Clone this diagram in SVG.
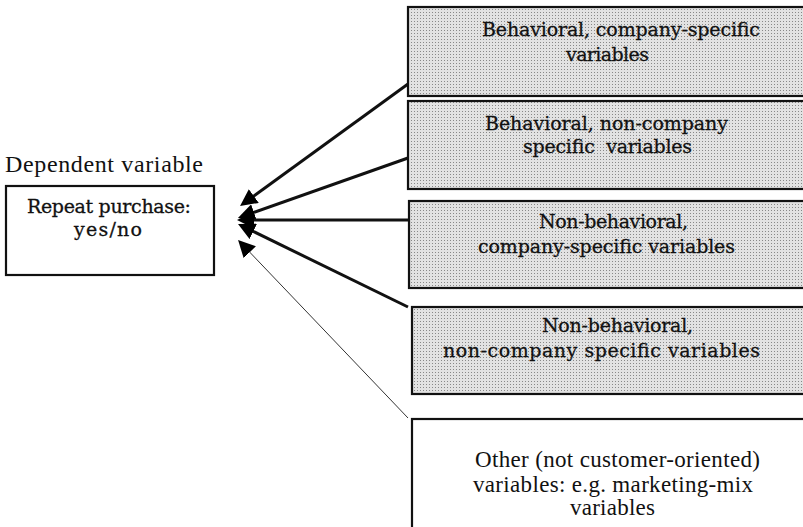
<svg xmlns="http://www.w3.org/2000/svg" width="803" height="527" viewBox="0 0 803 527">
<style>
.box{stroke:#111;stroke-width:2.2}
.shade{fill:url(#dots)}
.plain{fill:#fff}
.cen{font-family:"DejaVu Serif","Liberation Serif",serif;font-size:19px;fill:#111;stroke:#111;stroke-width:0.3}
.tim{font-family:"Liberation Serif","Times New Roman",serif;font-size:23px;fill:#111}
.conn{stroke:#111;stroke-width:3;fill:none}
.thin{stroke:#333;stroke-width:1;fill:none}
</style>
<defs>
<pattern id="dots" x="0" y="0" width="3" height="3" patternUnits="userSpaceOnUse">
<rect width="3" height="3" fill="#e2e2e2"/>
<rect width="1" height="1" fill="#888"/>
</pattern>
<marker id="ah" markerUnits="userSpaceOnUse" markerWidth="17" markerHeight="17" viewBox="0 -8.5 17 17" refX="1" refY="0" orient="auto">
<path d="M0,-8.5 L17,0 L0,8.5 z" fill="#000"/>
</marker>
</defs>
<rect width="803" height="527" fill="#fff"/>
<text class="tim" x="5" y="172" style="font-size:24px" textLength="198">Dependent variable</text>
<g id="dependent">
<rect class="box plain" x="6" y="186" width="208" height="89"/>
<text class="cen" x="27" y="213" textLength="164">Repeat purchase:</text>
<text class="cen" x="74" y="236" textLength="68">yes/no</text>
</g>
<g id="n1">
<rect class="box shade" x="408" y="7" width="405" height="89"/>
<text class="cen" x="482" y="36" textLength="278">Behavioral, company-specific</text>
<text class="cen" x="566" y="61" textLength="83">variables</text>
</g>
<g id="n2">
<rect class="box shade" x="408" y="101" width="405" height="88"/>
<text class="cen" x="485" y="130" textLength="243">Behavioral, non-company</text>
<text class="cen" x="523" y="153" textLength="169" xml:space="preserve">specific  variables</text>
</g>
<g id="n3">
<rect class="box shade" x="409" y="201" width="405" height="87"/>
<text class="cen" x="539" y="228" textLength="149">Non-behavioral,</text>
<text class="cen" x="478" y="253" textLength="257">company-specific variables</text>
</g>
<g id="n4">
<rect class="box shade" x="412" y="307" width="405" height="87"/>
<text class="cen" x="542" y="332" textLength="151">Non-behavioral,</text>
<text class="cen" x="443" y="357" textLength="317">non-company specific variables</text>
</g>
<g id="n5">
<rect class="box plain" x="412" y="419" width="405" height="120"/>
<text class="tim" x="475" y="467" textLength="285">Other (not customer-oriented)</text>
<text class="tim" x="473" y="492" textLength="280">variables: e.g. marketing-mix</text>
<text class="tim" x="570" y="515" textLength="85">variables</text>
</g>
<g id="connectors">
<line class="conn" x1="408" y1="84" x2="253" y2="196.6" marker-end="url(#ah)"/>
<line class="conn" x1="408" y1="158" x2="253" y2="212.7" marker-end="url(#ah)"/>
<line class="conn" x1="408" y1="220" x2="253" y2="220" marker-end="url(#ah)"/>
<line class="conn" x1="408" y1="307" x2="252.4" y2="231" marker-end="url(#ah)"/>
<line class="thin" x1="408" y1="418" x2="249.1" y2="251.5" marker-end="url(#ah)"/>
</g>
</svg>
